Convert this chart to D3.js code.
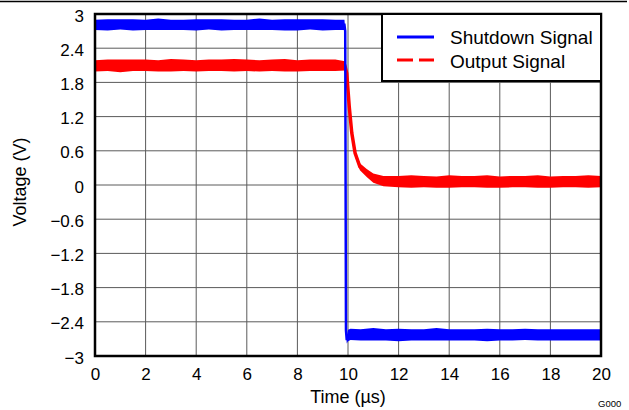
<!DOCTYPE html>
<html>
<head>
<meta charset="utf-8">
<script src="https://cdn.jsdelivr.net/npm/d3@7"></script>
<style>
  body { margin: 0; background: #fff; }
  text { font-family: "Liberation Sans", Arial, sans-serif; fill: #000; }
</style>
</head>
<body>
<div id="chart"></div>
<script>
// axis ticks
var xTicks = [0, 2, 4, 6, 8, 10, 12, 14, 16, 18, 20];
var yTicks = [-3, -2.4, -1.8, -1.2, -0.6, 0, 0.6, 1.2, 1.8, 2.4, 3];
var yTickLabels = ["\u22123", "\u22122.4", "\u22121.8", "\u22121.2", "\u22120.6", "0", "0.6", "1.2", "1.8", "2.4", "3"];

// shutdown signal (blue): time in us, voltage, half-width of the noise band
var blueTime = [0, 0.5, 1, 1.5, 2, 2.5, 3, 3.5, 4, 4.5, 5, 5.5, 6, 6.5, 7, 7.5, 8, 8.5, 9, 9.5,
  9.86, 9.89, 9.92, 9.95, 10.0, 10.1,
  10.5, 11, 11.5, 12, 12.5, 13, 13.5, 14, 14.5, 15, 15.5, 16, 16.5, 17, 17.5, 18, 18.5, 19, 19.5, 20];
var blueVolt = [2.81, 2.81, 2.82, 2.81, 2.81, 2.82, 2.81, 2.81, 2.81, 2.82, 2.81, 2.81, 2.81, 2.82, 2.81, 2.81, 2.81, 2.82, 2.81, 2.81,
  2.81, 2.70, -2.55, -2.72, -2.64, -2.62,
  -2.63, -2.62, -2.63, -2.63, -2.63, -2.63, -2.62, -2.63, -2.63, -2.63, -2.63, -2.63, -2.63, -2.62, -2.63, -2.63, -2.63, -2.63, -2.63, -2.63];
var blueNoise = [0.09, 0.10, 0.09, 0.10, 0.09, 0.10, 0.09, 0.09, 0.10, 0.09, 0.10, 0.09, 0.09, 0.10, 0.09, 0.10, 0.10, 0.09, 0.10, 0.09,
  0.09, 0.03, 0.03, 0.06, 0.10, 0.10,
  0.10, 0.11, 0.10, 0.11, 0.10, 0.10, 0.11, 0.10, 0.10, 0.10, 0.11, 0.10, 0.10, 0.10, 0.10, 0.10, 0.10, 0.10, 0.10, 0.10];

// output signal (red)
var redTime = [0, 0.5, 1, 1.5, 2, 2.5, 3, 3.5, 4, 4.5, 5, 5.5, 6, 6.5, 7, 7.5, 8, 8.5, 9, 9.5,
  9.88, 9.95, 10.05, 10.15, 10.28, 10.47, 10.74, 11.0, 11.4,
  12, 12.5, 13, 13.5, 14, 14.5, 15, 15.5, 16, 16.5, 17, 17.5, 18, 18.5, 19, 19.5, 20];
var redVolt = [2.09, 2.10, 2.09, 2.10, 2.10, 2.09, 2.10, 2.10, 2.09, 2.10, 2.10, 2.10, 2.10, 2.09, 2.10, 2.10, 2.09, 2.10, 2.10, 2.10,
  2.09, 1.96, 1.37, 0.91, 0.56, 0.32, 0.21, 0.12, 0.07,
  0.06, 0.06, 0.06, 0.05, 0.06, 0.06, 0.06, 0.06, 0.05, 0.06, 0.06, 0.06, 0.05, 0.06, 0.06, 0.06, 0.06];
var redNoise = [0.10, 0.10, 0.11, 0.10, 0.10, 0.10, 0.11, 0.10, 0.10, 0.10, 0.10, 0.11, 0.10, 0.10, 0.10, 0.11, 0.10, 0.10, 0.10, 0.10,
  0.08, 0.05, 0.05, 0.05, 0.05, 0.06, 0.07, 0.08, 0.09,
  0.10, 0.11, 0.10, 0.10, 0.11, 0.10, 0.10, 0.11, 0.10, 0.10, 0.10, 0.11, 0.10, 0.10, 0.10, 0.11, 0.10];

var seriesNames = ["Shutdown Signal", "Output Signal"];
var seriesColors = ["#0000ff", "#ff0000"];

var margin = { top: 14, right: 28, bottom: 54, left: 95 },
  width = 629 - margin.left - margin.right,
  height = 410 - margin.top - margin.bottom;

var root = d3.select("#chart")
  .append("svg")
  .attr("width", 629)
  .attr("height", 410);

// thin rule across the top of the page
root.append("line")
  .attr("x1", 0).attr("x2", 627)
  .attr("y1", 1.5).attr("y2", 1.5)
  .attr("stroke", "#000")
  .attr("stroke-width", 1.5);

var svg = root.append("g")
  .attr("transform", "translate(" + margin.left + "," + margin.top + ")");

var x = d3.scaleLinear()
  .domain([0, 20])
  .range([0, width]);

var y = d3.scaleLinear()
  .domain([-3, 3])
  .range([height, 0]);

// grid
svg.append("g")
  .selectAll("line")
  .data(xTicks)
  .enter()
  .append("line")
  .attr("x1", function (d) { return x(d); })
  .attr("x2", function (d) { return x(d); })
  .attr("y1", 0)
  .attr("y2", height)
  .attr("stroke", "#5a5a5a")
  .attr("stroke-width", 1);

svg.append("g")
  .selectAll("line")
  .data(yTicks)
  .enter()
  .append("line")
  .attr("x1", 0)
  .attr("x2", width)
  .attr("y1", function (d) { return y(d); })
  .attr("y2", function (d) { return y(d); })
  .attr("stroke", "#5a5a5a")
  .attr("stroke-width", 1);

// axes (labels only)
var xAxis = svg.append("g")
  .attr("transform", "translate(0," + height + ")")
  .call(d3.axisBottom(x).tickValues(xTicks).tickSize(0).tickPadding(12));

var yAxis = svg.append("g")
  .call(d3.axisLeft(y).tickValues(yTicks)
    .tickFormat(function (d, i) { return yTickLabels[i]; })
    .tickSize(0).tickPadding(11));

[xAxis, yAxis].forEach(function (a) {
  a.select(".domain").remove();
  a.selectAll("text")
    .style("font-size", "17px")
    .style("font-family", "'Liberation Sans', Arial, sans-serif")
    .attr("fill", "#000");
});
yAxis.selectAll("text").attr("dy", "0.42em");

// series
function makeSeries(t, v, n) {
  return t.map(function (d, i) { return { t: d, v: v[i], n: n[i] }; });
}
var series = [
  makeSeries(redTime, redVolt, redNoise),
  makeSeries(blueTime, blueVolt, blueNoise)
];
var order = [1, 0];

var band = d3.area()
  .x(function (d) { return x(d.t); })
  .y0(function (d) { return y(d.v - d.n); })
  .y1(function (d) { return y(d.v + d.n); });

var line = d3.line()
  .x(function (d) { return x(d.t); })
  .y(function (d) { return y(d.v); });

series.forEach(function (s, i) {
  var c = seriesColors[order[i]];
  svg.append("path")
    .datum(s)
    .attr("d", band)
    .attr("fill", c);
  svg.append("path")
    .datum(s)
    .attr("d", line)
    .attr("fill", "none")
    .attr("stroke", c)
    .attr("stroke-width", order[i] == 0 ? 2.5 : 3.5);
});

// frame
svg.append("rect")
  .attr("x", 0).attr("y", 0)
  .attr("width", width).attr("height", height)
  .attr("fill", "none")
  .attr("stroke", "#000")
  .attr("stroke-width", 2.5);

// legend
var legend = svg.append("g")
  .attr("transform", "translate(" + (width - 219) + ",0)");

legend.append("rect")
  .attr("width", 219)
  .attr("height", 67)
  .attr("fill", "#fff")
  .attr("stroke", "#000")
  .attr("stroke-width", 2);

seriesNames.forEach(function (name, i) {
  legend.append("line")
    .attr("x1", 15).attr("x2", 52)
    .attr("y1", 23 + i * 23).attr("y2", 23 + i * 23)
    .attr("stroke", seriesColors[i])
    .attr("stroke-width", 3)
    .attr("stroke-dasharray", i == 1 ? "16,6" : null);
  legend.append("text")
    .attr("x", 68)
    .attr("y", 30 + i * 24)
    .style("font-size", "19px")
    .text(name);
});

// axis titles
svg.append("text")
  .attr("text-anchor", "middle")
  .attr("x", width / 2)
  .attr("y", height + 47)
  .style("font-size", "18px")
  .text("Time (\u00b5s)");

svg.append("text")
  .attr("text-anchor", "middle")
  .attr("transform", "rotate(-90)")
  .attr("x", -height / 2 + 3)
  .attr("y", -69)
  .style("font-size", "18px")
  .text("Voltage (V)");

root.append("text")
  .attr("x", 598)
  .attr("y", 407)
  .style("font-size", "9.5px")
  .attr("fill", "#333")
  .text("G000");
</script>
</body>
</html>
